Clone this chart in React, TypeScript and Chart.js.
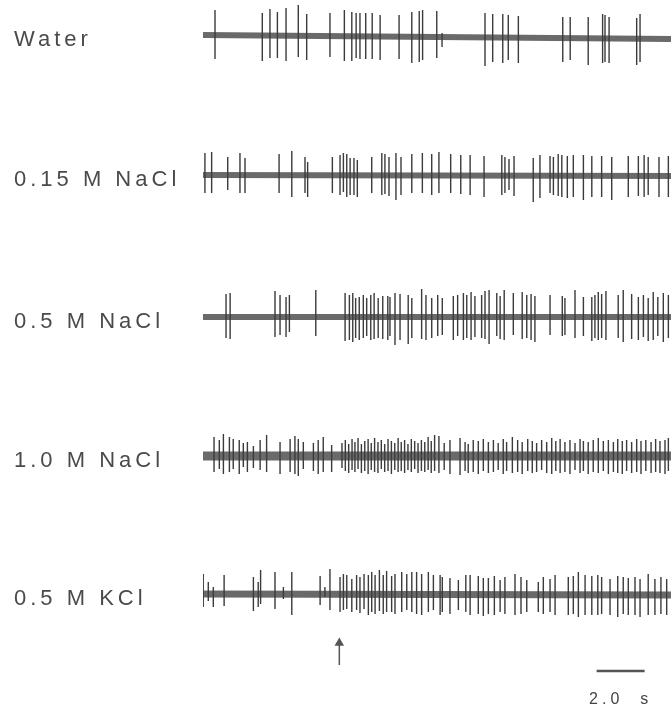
import React, { useEffect, useRef } from 'react';
import { Chart, registerables } from 'chart.js';

Chart.register(...registerables);

// ---- trace labels & layout of traces (y units) ----
const traceNames = ['Water', '0.15 M NaCl', '0.5 M NaCl', '1.0 M NaCl', '0.5 M KCl'];
const traceOffsets = [681, 541, 399, 260, 122];
const baselineStart = [0, 0, 0, 0, 0];
const baselineEnd = [-4, -1, 0, 0, -1];
const bandWidths = [6, 6, 6, 9, 7];

// ---- time axis (s) ----
const durationS = 19.5;
const stimulusTime = 5.68;
const scaleBarStart = 16.4;
const scaleBarLength = 2.0;
const scaleBarLabel = '2.0  s';

// ---- Water ----
const waterTimes = [0.5, 2.47, 2.79, 3.1, 3.46, 3.97, 4.32, 5.29, 5.89, 6.2, 6.38, 6.54, 6.78, 7.05, 7.38, 8.17, 8.7, 9.01, 9.15, 9.74, 9.96, 11.75, 12.07, 12.49, 12.72, 13.14, 14.99, 15.3, 16.05, 16.65, 16.75, 16.92, 18.07, 18.21];
const waterUp = [25, 22, 26, 23, 27, 30, 21, 22, 25, 23, 22, 22, 22, 22, 20, 20, 23, 24, 25, 24, 2, 22, 21, 21, 20, 19, 18, 18, 18, 21, 20, 18, 17, 21];
const waterDown = [24, 26, 23, 23, 26, 22, 25, 22, 26, 26, 23, 24, 24, 24, 25, 24, 28, 27, 25, 23, 12, 31, 27, 28, 25, 28, 27, 25, 30, 28, 27, 28, 30, 27];

// ---- 0.15 M NaCl ----
const nacl015Times = [0.08, 0.36, 1.03, 1.54, 1.75, 3.17, 3.7, 4.25, 4.36, 5.39, 5.71, 5.85, 5.99, 6.13, 6.29, 6.43, 7.03, 7.45, 7.58, 7.75, 8.04, 8.25, 8.7, 9.14, 9.53, 9.83, 10.32, 10.74, 11.13, 11.71, 12.45, 12.58, 12.75, 12.96, 13.76, 14.04, 14.46, 14.6, 14.8, 14.95, 15.18, 15.43, 15.85, 16.2, 16.61, 17.03, 17.72, 18.14, 18.38, 18.55, 19.0, 19.39];
const nacl015Up = [22, 23, 18, 22, 17, 21, 24, 18, 13, 18, 20, 22, 21, 17, 17, 15, 18, 22, 21, 18, 22, 18, 21, 22, 21, 23, 21, 20, 20, 19, 20, 18, 16, 19, 17, 20, 19, 18, 21, 20, 19, 20, 20, 19, 19, 18, 19, 19, 20, 18, 18, 19];
const nacl015Down = [18, 18, 15, 18, 18, 18, 22, 18, 22, 18, 20, 17, 22, 20, 20, 22, 18, 20, 19, 21, 25, 20, 18, 18, 20, 18, 18, 19, 20, 22, 20, 18, 15, 21, 27, 23, 18, 20, 21, 22, 23, 22, 25, 22, 22, 25, 22, 21, 22, 20, 22, 22];

// ---- 0.5 M NaCl ----
const nacl05Times = [0.96, 1.13, 3.0, 3.21, 3.46, 3.6, 4.7, 5.92, 6.1, 6.24, 6.36, 6.51, 6.68, 6.82, 6.99, 7.13, 7.3, 7.49, 7.7, 7.79, 8.0, 8.21, 8.55, 8.7, 9.11, 9.29, 9.53, 9.78, 9.97, 10.43, 10.61, 10.85, 10.99, 11.17, 11.33, 11.61, 11.75, 11.92, 12.24, 12.38, 12.55, 12.93, 13.3, 13.49, 13.67, 13.83, 14.46, 14.97, 15.08, 15.5, 15.85, 16.2, 16.33, 16.47, 16.61, 16.79, 17.3, 17.51, 17.86, 18.14, 18.35, 18.55, 18.76, 18.95, 19.18, 19.39];
const nacl05Up = [23, 24, 26, 22, 20, 22, 27, 24, 22, 24, 19, 20, 22, 19, 22, 24, 19, 21, 21, 20, 24, 23, 22, 19, 28, 22, 19, 22, 19, 21, 22, 24, 22, 25, 21, 22, 26, 27, 24, 21, 27, 24, 25, 22, 23, 21, 22, 21, 19, 27, 20, 20, 22, 25, 23, 26, 22, 27, 23, 20, 22, 19, 25, 20, 24, 22];
const nacl05Down = [21, 22, 20, 18, 20, 15, 19, 24, 23, 25, 21, 23, 21, 19, 23, 22, 21, 22, 23, 19, 28, 23, 27, 21, 22, 23, 21, 19, 18, 23, 19, 23, 21, 23, 20, 21, 22, 27, 19, 22, 23, 18, 22, 21, 23, 25, 18, 19, 18, 21, 19, 24, 21, 23, 21, 23, 21, 25, 22, 23, 20, 24, 23, 19, 25, 21];

// ---- 1.0 M NaCl ----
const nacl10Times = [0.46, 0.68, 0.85, 1.1, 1.26, 1.51, 1.68, 1.85, 2.1, 2.38, 2.65, 3.21, 3.63, 3.83, 3.97, 4.18, 4.6, 4.8, 5.01, 5.36,
  5.79, 5.93, 6.07, 6.21, 6.33, 6.46, 6.6, 6.74, 6.88, 7.01, 7.15, 7.29, 7.43, 7.57, 7.71, 7.85, 7.99, 8.13, 8.26, 8.4, 8.54, 8.68, 8.82, 8.96, 9.1, 9.24, 9.38, 9.51, 9.65,
  9.83, 10.05, 10.29, 10.71, 10.92, 11.05, 11.26, 11.47, 11.68, 11.89, 12.1, 12.3, 12.51, 12.65, 12.89, 13.11, 13.3, 13.53, 13.72, 13.9, 14.11, 14.32, 14.53, 14.7, 14.88, 15.08, 15.29, 15.5, 15.71, 15.85, 16.05, 16.26, 16.47, 16.68, 16.89, 17.1, 17.28, 17.47, 17.65, 17.86, 18.07, 18.25, 18.45, 18.67, 18.86, 19.04, 19.25, 19.39];
const nacl10Up = [19, 16, 22, 19, 17, 16, 13, 14, 10, 16, 21, 14, 17, 20, 17, 14, 13, 16, 19, 11,
  13, 16, 12, 17, 14, 18, 12, 15, 17, 13, 18, 14, 16, 12, 17, 15, 13, 18, 14, 16, 12, 17, 15, 13, 16, 14, 19, 15, 21,
  20, 13, 16, 18, 14, 12, 16, 15, 17, 14, 16, 13, 17, 14, 19, 16, 14, 17, 15, 13, 16, 14, 18, 15, 17, 14, 16, 13, 17, 15, 14, 16, 18, 15, 16, 14, 17, 15, 16, 14, 17, 15, 16, 14, 17, 15, 16, 18];
const nacl10Down = [16, 13, 18, 16, 13, 18, 11, 16, 12, 14, 16, 18, 16, 18, 20, 13, 15, 18, 16, 16,
  12, 15, 17, 14, 16, 13, 17, 15, 18, 14, 16, 17, 13, 16, 15, 18, 14, 16, 15, 17, 14, 16, 13, 17, 15, 16, 14, 17, 15,
  17, 14, 18, 19, 15, 17, 16, 18, 15, 17, 16, 14, 18, 15, 17, 16, 18, 15, 17, 16, 14, 17, 18, 15, 17, 16, 18, 14, 17, 15, 18, 16, 17, 15, 18, 16, 17, 18, 15, 17, 16, 18, 15, 17, 16, 17, 18, 15];

// ---- 0.5 M KCl ----
const kcl05Times = [0.01, 0.22, 0.43, 0.88, 2.1, 2.3, 2.4, 3.0, 3.35, 3.7, 4.88, 5.08, 5.29, 5.71, 5.85, 5.99, 6.2, 6.4, 6.54, 6.71, 6.89, 7.03, 7.17, 7.35, 7.51, 7.65, 7.86, 8.0, 8.28, 8.49, 8.7, 8.9, 9.11, 9.39, 9.6,
  9.88, 9.97, 10.29, 10.64, 10.95, 11.13, 11.47, 11.68, 11.89, 12.14, 12.38, 12.58, 13.0, 13.25, 13.49, 13.97, 14.18, 14.46, 14.67, 15.22, 15.43, 15.64, 15.92, 16.2, 16.45, 16.61, 16.96, 17.28, 17.51, 17.72, 18.0, 18.21, 18.55, 18.83, 19.08, 19.32];
const kcl05Up = [20, 12, 7, 19, 17, 12, 24, 22, 7, 22, 18, 7, 25, 17, 20, 19, 15, 19, 17, 20, 19, 22, 19, 24, 19, 23, 18, 20, 22, 20, 22, 22, 20, 22, 19,
  19, 17, 16, 14, 19, 19, 18, 16, 16, 18, 14, 17, 20, 17, 14, 12, 17, 15, 19, 17, 18, 22, 19, 18, 19, 17, 15, 18, 17, 16, 17, 15, 20, 15, 17, 15];
const kcl05Down = [13, 7, 13, 12, 17, 13, 10, 15, 5, 21, 11, 3, 16, 18, 16, 15, 18, 16, 19, 15, 21, 18, 20, 17, 20, 18, 18, 20, 18, 16, 18, 20, 21, 18, 16,
  21, 18, 20, 16, 18, 21, 20, 22, 20, 21, 18, 20, 21, 20, 18, 18, 20, 18, 21, 21, 20, 23, 21, 21, 21, 20, 21, 23, 20, 21, 21, 23, 21, 21, 20, 21];

const traceTimes = [waterTimes, nacl015Times, nacl05Times, nacl10Times, kcl05Times];
const traceUp = [waterUp, nacl015Up, nacl05Up, nacl10Up, kcl05Up];
const traceDown = [waterDown, nacl015Down, nacl05Down, nacl10Down, kcl05Down];

const FONT = "'Liberation Sans', Arial, Helvetica, sans-serif";

export default function App() {
  const ref = useRef<HTMLCanvasElement | null>(null);

  useEffect(() => {
    if (!ref.current) return;
    const datasets: any[] = [];
    traceOffsets.forEach((off, i) => {
      const pts: any[] = [];
      traceTimes[i].forEach((t, k) => {
        pts.push({ x: t, y: off + traceUp[i][k] });
        pts.push({ x: t, y: off - traceDown[i][k] });
        pts.push({ x: t, y: null });
      });
      datasets.push({
        data: pts,
        borderColor: '#3b3b3b',
        borderWidth: 1.4,
        pointRadius: 0,
        spanGaps: false,
        order: 1,
      });
      datasets.push({
        data: [
          { x: 0, y: off + baselineStart[i] },
          { x: durationS, y: off + baselineEnd[i] },
        ],
        borderColor: '#6a6a6a',
        borderWidth: bandWidths[i],
        pointRadius: 0,
        order: 2,
      });
    });
    // stimulus arrow
    datasets.push({
      data: [
        { x: stimulusTime, y: 51 },
        { x: stimulusTime, y: 71 },
      ],
      borderColor: '#555',
      borderWidth: 1.5,
      pointRadius: 0,
      order: 1,
    });
    datasets.push({
      data: [{ x: stimulusTime, y: 73 }],
      showLine: false,
      pointStyle: 'triangle',
      pointRadius: 5.5,
      pointBackgroundColor: '#555',
      pointBorderWidth: 0,
      order: 1,
    });
    // scale bar
    datasets.push({
      data: [
        { x: scaleBarStart, y: 45 },
        { x: scaleBarStart + scaleBarLength, y: 45 },
      ],
      borderColor: '#555',
      borderWidth: 2.5,
      pointRadius: 0,
      order: 1,
    });

    const spacing = {
      id: 'letterSpacing',
      beforeDraw(chart: any) {
        chart.ctx.letterSpacing = '4px';
      },
    };

    const noPad = (s: any) => {
      s.paddingTop = 0;
      s.paddingBottom = 0;
      s.paddingLeft = 0;
      s.paddingRight = 0;
    };

    const chart = new Chart(ref.current, {
      type: 'line',
      data: { datasets },
      plugins: [spacing],
      options: {
        animation: false,
        responsive: false,
        devicePixelRatio: 1,
        layout: { autoPadding: false, padding: { left: 14, right: 0, top: 0, bottom: 0 } },
        plugins: { legend: { display: false }, tooltip: { enabled: false } },
        elements: { line: { tension: 0 } },
        scales: {
          x: {
            type: 'linear',
            min: 0,
            max: durationS,
            grid: { display: false, drawTicks: false },
            border: { display: false },
            afterFit: (s: any) => { s.height = 30; noPad(s); },
            afterBuildTicks: (s: any) => {
              s.ticks = [{ value: scaleBarStart + scaleBarLength / 2 }];
            },
            ticks: {
              padding: 4,
              autoSkip: false,
              maxRotation: 0,
              color: '#444',
              font: { family: FONT, size: 16 },
              callback: () => scaleBarLabel,
            },
          },
          y: {
            type: 'linear',
            min: 30,
            max: 716,
            grid: { display: false, drawTicks: false },
            border: { display: false },
            afterFit: (s: any) => { s.width = 189; noPad(s); },
            afterBuildTicks: (s: any) => {
              s.ticks = traceOffsets.map((v) => ({ value: v }));
            },
            ticks: {
              crossAlign: 'far',
              autoSkip: false,
              labelOffset: 5,
              color: '#4a4a4a',
              font: { family: FONT, size: 22 },
              callback: (_v: any, idx: number) => traceNames[idx],
            },
          },
        },
      } as any,
    });
    return () => chart.destroy();
  }, []);

  return (
    <canvas
      ref={ref}
      width={671}
      height={716}
      style={{ position: 'absolute', left: 0, top: 0, width: 671, height: 716 }}
    />
  );
}
